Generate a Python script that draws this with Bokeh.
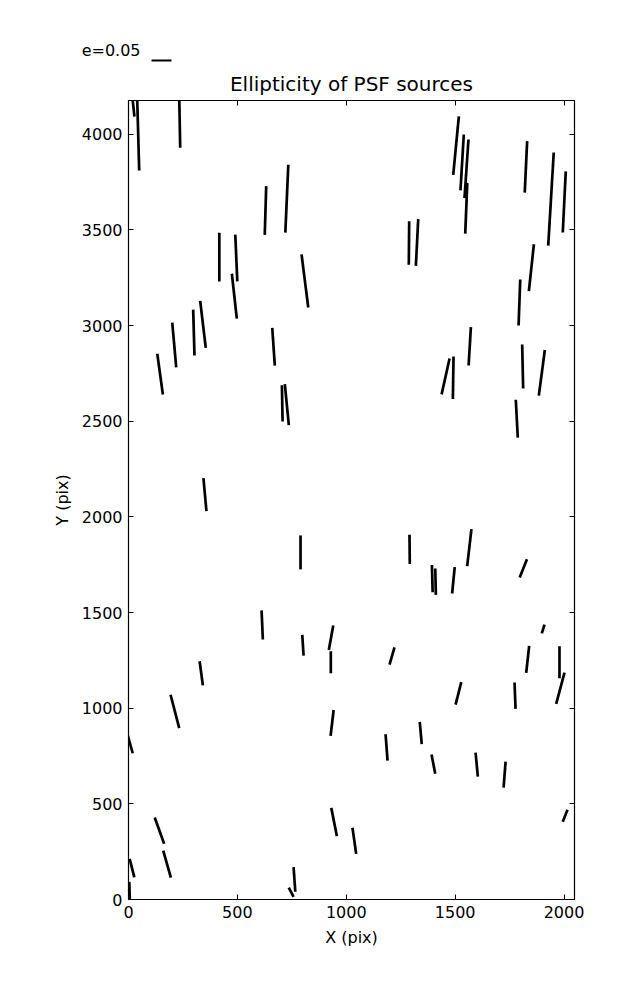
import numpy as np
from bokeh.plotting import figure
from bokeh.layouts import column
from bokeh.models import Range1d, FixedTicker, LinearAxis, CustomLabelingPolicy
from bokeh.embed import file_html
from bokeh.resources import INLINE

# ---- data: whisker centres (pix), ellipticity, position angle (deg, screen) ----
x_pix = [20, 44, 235, 629, 727, 417, 495, 486, 810, 1504,
         1532, 1552, 1551, 1825, 1940, 2001, 1288, 1325, 1850, 1795,
         300, 342, 210, 145, 666, 1567, 1810, 1898, 1456, 1491,
         706, 727, 1783, 351, 790, 1291, 1565, 1395, 1410, 1492,
         1813, 614, 801, 930, 929, 1904, 1210, 1833, 1979, 1983,
         334, 213, 1515, 1775, 1, 935, 1185, 1342, 1400, 1599,
         1727, 142, 177, 16, 944, 2005, 1037, 762, 747, 5]
y_pix = [4170, 4019, 4073, 3601, 3663, 3357, 3353, 3153, 3233, 3940,
         3852, 3819, 3613, 3829, 3661, 3646, 3431, 3434, 3302, 3120,
         2963, 3006, 2898, 2746, 2889, 2891, 2786, 2753, 2734, 2727,
         2593, 2586, 2513, 2116, 1814, 1830, 1839, 1677, 1661, 1668,
         1731, 1435, 1329, 1368, 1240, 1414, 1273, 1255, 1240, 1104,
         1182, 983, 1077, 1065, 840, 923, 795, 870, 708, 705,
         653, 360, 185, 164, 405, 438, 307, 105, 38, 40]
ellip = [0.075, 0.200, 0.138, 0.122, 0.170, 0.122, 0.117, 0.113, 0.134, 0.147,
         0.140, 0.147, 0.127, 0.129, 0.233, 0.153, 0.109, 0.117, 0.118, 0.115,
         0.115, 0.118, 0.112, 0.103, 0.095, 0.096, 0.110, 0.115, 0.092, 0.106,
         0.091, 0.103, 0.095, 0.083, 0.085, 0.073, 0.093, 0.068, 0.066, 0.066,
         0.049, 0.073, 0.052, 0.062, 0.055, 0.023, 0.045, 0.068, 0.080, 0.081,
         0.061, 0.086, 0.058, 0.066, 0.075, 0.065, 0.066, 0.056, 0.049, 0.060,
         0.065, 0.070, 0.070, 0.048, 0.072, 0.032, 0.066, 0.062, 0.026, 0.050]
angle_deg = [96.0, 91.6, 91.1, 88.3, 87.5, 90.0, 92.5, 96.3, 97.2, 84.5,
             86.6, 86.1, 87.7, 87.3, 86.6, 87.2, 89.5, 87.1, 83.9, 87.9,
             91.6, 96.8, 95.1, 97.8, 93.9, 86.6, 91.3, 82.5, 77.5, 89.1,
             91.1, 95.6, 93.0, 95.2, 90.0, 90.6, 83.4, 91.5, 91.3, 84.4,
             68.3, 92.5, 93.6, 79.7, 90.0, 72.8, 73.9, 83.7, 90.0, 75.1,
             97.7, 104.6, 75.7, 92.2, 105.5, 83.3, 94.3, 95.1, 101.0, 95.5,
             85.6, 109.7, 105.9, 104.1, 101.2, 68.1, 98.1, 94.0, 117.6, 92.0]

x_ticks = [0, 500, 1000, 1500, 2000]
y_ticks = [0, 500, 1000, 1500, 2000, 2500, 3000, 3500, 4000]
key_e = 0.05
key_label = "e=0.05"

# ---- layout constants ----
X_MAX, Y_MAX = 2048, 4176
FRAME_W, FRAME_H = 446, 799
PAGE_W = 630
KEY_H = 68
LEFT, TOP = 128, 100
PX_PER_E = 400.0           # whisker length in screen px per unit ellipticity
FONT = "DejaVu Sans"

sx = FRAME_W / X_MAX
sy = FRAME_H / Y_MAX
xc = np.array(x_pix, float)
yc = np.array(y_pix, float)
half = np.array(ellip) * PX_PER_E / 2.0
th = np.deg2rad(np.array(angle_deg))
dx = half * np.cos(th) / sx
dy = half * np.sin(th) / sy

# ---- key strip above the plot (x = page px, y = px up from strip bottom) ----
key_row = KEY_H - 60          # key line height
key_text_row = KEY_H - 67.5   # key label anchor
key_line_left, key_text_right = 151, 146
key = figure(width=PAGE_W, height=KEY_H,
             x_range=Range1d(LEFT, LEFT + FRAME_W), y_range=Range1d(0, KEY_H),
             output_backend="svg", toolbar_location=None,
             min_border_left=LEFT, min_border_right=PAGE_W - LEFT - FRAME_W,
             min_border_top=0, min_border_bottom=0)
key.xaxis.visible = False
key.grid.visible = False
key.outline_line_color = None
key.background_fill_color = "white"
key.border_fill_color = "white"
kax = key.yaxis[0]
kax.ticker = FixedTicker(ticks=[key_text_row])
kax.major_label_overrides = {key_text_row: key_label}
kax.axis_line_color = None
kax.major_tick_line_color = None
kax.minor_tick_line_color = None
kax.major_label_standoff = -(key_text_right - LEFT)
kax.major_label_text_font = "DejaVu Sans"
kax.major_label_text_font_size = "16px"
kax.major_label_text_color = "black"
key.segment(x0=[key_line_left], y0=[key_row],
            x1=[key_line_left + key_e * PX_PER_E], y1=[key_row],
            line_color="black", line_width=2, line_cap="butt")

# ---- main plot ----
p = figure(frame_width=FRAME_W, frame_height=FRAME_H,
           x_range=Range1d(0, X_MAX), y_range=Range1d(0, Y_MAX),
           output_backend="svg", toolbar_location=None,
           min_border_left=LEFT, min_border_right=PAGE_W - LEFT - FRAME_W,
           min_border_top=TOP - KEY_H, min_border_bottom=58,
           title="Ellipticity of PSF sources")
p.background_fill_color = "white"
p.border_fill_color = "white"
p.xgrid.visible = False
p.ygrid.visible = False
p.outline_line_color = "black"
p.outline_line_width = 1.2

p.title.text_font = FONT
p.title.text_font_size = "20px"
p.title.text_font_style = "normal"
p.title.text_color = "black"
p.title.align = "center"
p.title.standoff = 1

p.segment(x0=xc - dx, y0=yc - dy, x1=xc + dx, y1=yc + dy,
          line_color="black", line_width=2.7, line_cap="butt")

no_labels = CustomLabelingPolicy(code="return new Set()")

def style_axis(ax, ticks, show_labels):
    ax.ticker = FixedTicker(ticks=ticks)
    ax.axis_line_color = None
    ax.major_tick_in = 5
    ax.major_tick_out = 0
    ax.major_tick_line_color = "black"
    ax.major_tick_line_width = 1
    ax.minor_tick_line_color = None
    if show_labels:
        ax.major_label_text_font = FONT
        ax.major_label_text_font_size = "16px"
        ax.major_label_text_color = "black"
        ax.axis_label_text_font = FONT
        ax.axis_label_text_font_size = "16px"
        ax.axis_label_text_font_style = "normal"
        ax.axis_label_text_color = "black"
    else:
        ax.major_label_policy = no_labels
        ax.major_label_text_font_size = "1px"
        ax.major_label_standoff = 0

style_axis(p.xaxis[0], x_ticks, True)
style_axis(p.yaxis[0], y_ticks, True)
p.xaxis[0].axis_label = "X (pix)"
p.yaxis[0].axis_label = "Y (pix)"
p.xaxis[0].major_label_standoff = 6
p.yaxis[0].major_label_standoff = 6
p.xaxis[0].axis_label_standoff = 7
p.yaxis[0].axis_label_standoff = 7

top_ax = LinearAxis()
style_axis(top_ax, x_ticks, False)
p.add_layout(top_ax, "above")
right_ax = LinearAxis()
style_axis(right_ax, y_ticks, False)
p.add_layout(right_ax, "right")

layout = column(key, p)
open("out.html", "w").write(file_html(layout, INLINE))
